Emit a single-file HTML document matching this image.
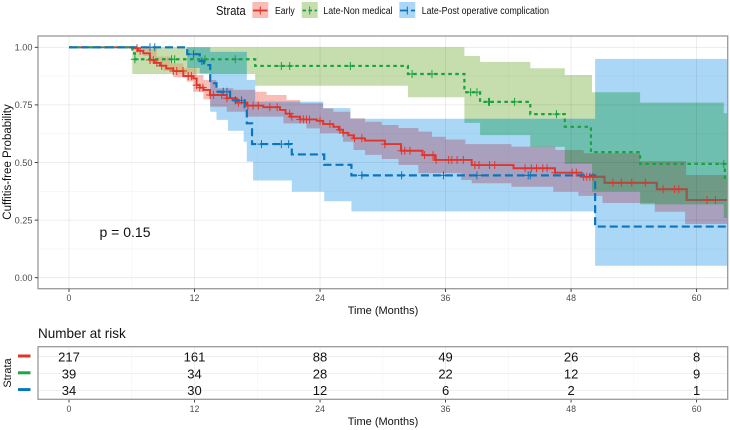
<!DOCTYPE html>
<html>
<head>
<meta charset="utf-8">
<style>
html,body{margin:0;padding:0;background:#fff;}
svg{display:block;font-family:"Liberation Sans",sans-serif;}
</style>
</head>
<body>
<svg id="chart" xmlns="http://www.w3.org/2000/svg" width="730" height="430" viewBox="0 0 730 430">
<defs id="defs"><clipPath id="panel-clip"><rect x="38" y="36" width="689.7" height="252.7"/></clipPath></defs>
<rect width="730" height="430" fill="#fff"/>
<g id="ribbons" clip-path="url(#panel-clip)"></g>
<g id="grid"></g>
<g id="marks" clip-path="url(#panel-clip)"></g>
<rect x="38" y="36" width="689.7" height="252.7" fill="none" stroke="#999" stroke-width="1.3"/>
<g id="axes"></g>
<text x="383" y="314" font-size="11" text-anchor="middle" fill="#111">Time (Months)</text>
<text transform="translate(11,162) rotate(-90)" font-size="11.5" text-anchor="middle" fill="#111">Cuffitis-free Probability</text>
<text x="99.5" y="237" font-size="14" fill="#111">p = 0.15</text>

<g id="legend">
<text x="216" y="15" font-size="12.5" textLength="29.7" lengthAdjust="spacingAndGlyphs" fill="#111">Strata</text>
<rect x="252.3" y="2" width="16" height="16" fill="#F7BDB6"/>
<line x1="253" y1="10.5" x2="267.5" y2="10.5" stroke="#E0352B" stroke-width="1.8"/>
<line x1="260.3" y1="6.5" x2="260.3" y2="14.5" stroke="#E0352B" stroke-width="1"/>
<text x="275" y="14.2" font-size="9.8" textLength="19.7" lengthAdjust="spacingAndGlyphs" fill="#111">Early</text>
<rect x="301.7" y="2" width="16" height="16" fill="#C6DDAE"/>
<line x1="302.5" y1="10.5" x2="317" y2="10.5" stroke="#18A23C" stroke-width="1.8" stroke-dasharray="3.5 2.5"/>
<line x1="309.7" y1="6.5" x2="309.7" y2="14.5" stroke="#18A23C" stroke-width="1"/>
<text x="323.3" y="14.2" font-size="9.8" textLength="69.3" lengthAdjust="spacingAndGlyphs" fill="#111">Late-Non medical</text>
<rect x="399.3" y="2" width="16" height="16" fill="#A9D7F5"/>
<line x1="400" y1="10.5" x2="415" y2="10.5" stroke="#0A75BC" stroke-width="1.8" stroke-dasharray="8 3"/>
<line x1="407.3" y1="6.5" x2="407.3" y2="14.5" stroke="#0A75BC" stroke-width="1"/>
<text x="421.7" y="14.2" font-size="9.8" textLength="127.3" lengthAdjust="spacingAndGlyphs" fill="#111">Late-Post operative complication</text>
</g>

<text x="38" y="338" font-size="14" textLength="87.7" lengthAdjust="spacingAndGlyphs" fill="#111">Number at risk</text>
<g id="risk-grid"></g>
<rect x="38" y="346.7" width="689.7" height="52.6" fill="none" stroke="#999" stroke-width="1.3"/>
<g id="risk-body"></g>
<text transform="translate(11,373) rotate(-90)" font-size="11" text-anchor="middle" fill="#111">Strata</text>
<text x="383" y="425" font-size="11" text-anchor="middle" fill="#111">Time (Months)</text>
</svg>

<script>
var xTicks = [0, 12, 24, 36, 48, 60];
var xMinorTicks = [6, 18, 30, 42, 54];
var yTicks = [0, 0.25, 0.5, 0.75, 1];
var yMinorTicks = [0.125, 0.375, 0.625, 0.875];
var maxMonth = 62.96;

var redTimes = [0, 6.15, 6.6, 7.1, 7.74, 8.2, 8.7, 9.3, 9.97, 10.93, 11.88, 12.2, 12.5, 12.85, 13.48, 15.08, 16.03, 16.99, 18.58, 20.17, 20.7, 21.13, 22.08, 23.68, 24.3, 25.27, 25.8, 26.2, 26.7, 27.2, 28.3, 30.2, 31.74, 33.8, 34.99, 38.5, 42.5, 46.46, 49, 51.2, 56.2, 59.05];
var redSurv = [1, 0.996, 0.985, 0.974, 0.945, 0.932, 0.92, 0.908, 0.897, 0.875, 0.865, 0.836, 0.825, 0.815, 0.793, 0.779, 0.76, 0.747, 0.74, 0.728, 0.712, 0.699, 0.687, 0.681, 0.667, 0.655, 0.642, 0.629, 0.618, 0.605, 0.595, 0.58, 0.551, 0.532, 0.511, 0.489, 0.475, 0.456, 0.438, 0.412, 0.384, 0.337];
var redUpperTimes = [0, 7.4, 8.4, 9.66, 10.93, 12.2, 12.85, 14.1, 15.7, 17.8, 18.9, 20.8, 22.1, 24.3, 25.27, 26.9, 28.3, 29.9, 31.5, 33.4, 34.7, 36, 37.9, 42.3, 46.5, 49.2, 54.6, 59];
var redUpper = [1, 0.995, 0.96, 0.93, 0.909, 0.88, 0.858, 0.822, 0.815, 0.807, 0.793, 0.771, 0.757, 0.735, 0.72, 0.692, 0.677, 0.663, 0.65, 0.634, 0.612, 0.6, 0.58, 0.569, 0.554, 0.54, 0.506, 0.446];
var redLowerTimes = [0, 6.15, 7.1, 7.74, 9, 9.97, 11.25, 11.88, 12.85, 13.48, 15.08, 16.99, 20.5, 22.7, 24, 26.2, 27.2, 28.3, 29.9, 31.5, 33.4, 37.5, 38.5, 42.3, 46.3, 48.7, 51, 56, 58.9];
var redLower = [1, 0.996, 0.962, 0.931, 0.898, 0.87, 0.851, 0.807, 0.774, 0.742, 0.72, 0.699, 0.67, 0.648, 0.627, 0.59, 0.554, 0.533, 0.515, 0.489, 0.454, 0.424, 0.41, 0.395, 0.373, 0.355, 0.324, 0.286, 0.233];
var redCensor = [6.5, 6.8, 7.74, 8.06, 8.4, 8.86, 9.97, 10.3, 10.9, 11.4, 11.7, 12.2, 12.5, 12.8, 13.5, 13.8, 14.6, 15.1, 16.2, 17.1, 17.6, 18.1, 19.2, 19.9, 21.1, 21.3, 22.1, 22.4, 22.7, 23, 24, 24.95, 25.9, 26.2, 27.3, 28, 30.2, 31.8, 32.1, 32.6, 34, 34.8, 35.1, 36.3, 36.6, 37.1, 37.7, 38.8, 39.2, 40.2, 40.7, 43.6, 44.2, 44.7, 45.3, 45.7, 46.5, 48.1, 48.5, 49.2, 49.5, 49.8, 50.1, 52, 52.8, 53.8, 55.1, 56.8, 57.9, 58.3, 61, 61.8];

var greenTimes = [0, 6.05, 6.3, 17.8, 32.4, 37.8, 39.3, 44.1, 47.4, 49.9, 54.6, 62.7];
var greenSurv = [1, 0.974, 0.948, 0.919, 0.884, 0.805, 0.763, 0.71, 0.655, 0.545, 0.494, 0.433];
var greenUpperTimes = [0, 37.8, 39.3, 44.1, 47.4, 50, 54.6, 62.6];
var greenUpper = [1, 0.962, 0.937, 0.909, 0.88, 0.805, 0.76, 0.714];
var greenLowerTimes = [0, 6.05, 17.8, 32.4, 37.8, 39.3, 44.1, 47.4, 50, 54.6, 62.6];
var greenLower = [1, 0.884, 0.833, 0.783, 0.672, 0.619, 0.568, 0.494, 0.373, 0.318, 0.259];
var greenCensor = [6.3, 9.8, 10.1, 13, 15.9, 20.3, 21.1, 26.9, 32.8, 34.7, 38.4, 39, 40.1, 40.2, 42.6, 46.6, 62.6];

var blueTimes = [0, 11.3, 12.5, 12.9, 13.5, 14.1, 15.4, 16.8, 17, 17.5, 21.3, 24.4, 27, 50.3];
var blueSurv = [1, 0.97, 0.94, 0.923, 0.844, 0.807, 0.77, 0.74, 0.67, 0.58, 0.535, 0.49, 0.444, 0.222];
var blueUpperTimes = [0, 13.5, 17, 17.8, 24.3, 26.9, 50.3];
var blueUpper = [1, 0.98, 0.858, 0.764, 0.736, 0.69, 0.95];
var blueLowerTimes = [0, 11.3, 12.5, 13.5, 14.1, 15.2, 16.7, 17, 17.6, 21.3, 24.4, 27, 50.3];
var blueLower = [1, 0.91, 0.887, 0.72, 0.685, 0.638, 0.59, 0.504, 0.422, 0.373, 0.332, 0.288, 0.052];
var blueCensor = [7.74, 8.2, 11.9, 12.7, 14.75, 15.1, 15.9, 16.5, 18.4, 20.3, 21, 28, 31.8, 35.8, 39, 43.9, 44.1];

var riskEarly = [217, 161, 88, 49, 26, 8];
var riskNonMedical = [39, 34, 28, 22, 12, 9];
var riskPostOperative = [34, 30, 12, 6, 2, 1];

var RED = '#E0352B', GREEN = '#18A23C', BLUE = '#0A75BC', MUTED_RED = '#8E5B4F';
var NS = 'http://www.w3.org/2000/svg';

function xScale(m) { return 69 + 10.46 * m; }
function yScale(s) { return 277.7 - 230.4 * s; }
function riskRow(i) { return 356.7 + 16.8 * i; }

function make(tag, parent, attrs) {
  var node = document.createElementNS(NS, tag);
  for (var k in attrs) node.setAttribute(k, attrs[k]);
  parent.appendChild(node);
  return node;
}

function stepPoints(times, vals) {
  var pts = [];
  for (var i = 0; i < times.length; i++) {
    if (i > 0) pts.push([times[i], vals[i - 1]]);
    pts.push([times[i], vals[i]]);
  }
  pts.push([maxMonth, vals[vals.length - 1]]);
  return pts;
}

function pointsToString(pts) {
  return pts.map(function (p) { return xScale(p[0]).toFixed(2) + ',' + yScale(p[1]).toFixed(2); }).join(' ');
}

function stepAt(times, vals, t) {
  var v = vals[0];
  for (var i = 0; i < times.length; i++) { if (times[i] <= t) v = vals[i]; }
  return v;
}

var defs = document.getElementById('defs');
var ribbons = document.getElementById('ribbons');
var grid = document.getElementById('grid');
var riskGrid = document.getElementById('risk-grid');
var axes = document.getElementById('axes');
var riskBody = document.getElementById('risk-body');
var marks = document.getElementById('marks');

xMinorTicks.forEach(function (m) {
  var l = make('line', grid, { x1: xScale(m), x2: xScale(m), y1: 36, y2: 288.7, stroke: '#000', 'stroke-opacity': 0.045, 'stroke-width': 0.6 });
  
  
  var r = make('line', riskGrid, { x1: xScale(m), x2: xScale(m), y1: 346.7, y2: 399.3, stroke: '#F3F3F3', 'stroke-width': 0.6 });
  
  
});
yMinorTicks.forEach(function (v) {
  var l = make('line', grid, { x1: 38, x2: 727.7, y1: yScale(v), y2: yScale(v), stroke: '#000', 'stroke-opacity': 0.045, 'stroke-width': 0.6 });
  
  
});
xTicks.forEach(function (m) {
  var x = xScale(m);
  var l = make('line', grid, { x1: x, x2: x, y1: 36, y2: 288.7, stroke: '#000', 'stroke-opacity': 0.09, 'stroke-width': 0.8 });
  
  
  var r = make('line', riskGrid, { x1: x, x2: x, y1: 346.7, y2: 399.3, stroke: '#EBEBEB', 'stroke-width': 0.8 });
  
  
  var t = make('line', axes, { x1: x, x2: x, y1: 288.7, y2: 292, stroke: '#333', 'stroke-width': 0.9 });
  
  
  var lab = make('text', axes, { x: x, y: 301, 'font-size': 8.8, 'text-anchor': 'middle', fill: '#4D4D4D' });
  lab.textContent = String(m);
  
  
  var rt = make('line', axes, { x1: x, x2: x, y1: 399.3, y2: 402.5, stroke: '#333', 'stroke-width': 0.9 });
  
  
  var rlab = make('text', axes, { x: x, y: 412, 'font-size': 8.8, 'text-anchor': 'middle', fill: '#4D4D4D' });
  rlab.textContent = String(m);
  
  
});
yTicks.forEach(function (v) {
  var y = yScale(v);
  var l = make('line', grid, { x1: 38, x2: 727.7, y1: y, y2: y, stroke: '#000', 'stroke-opacity': 0.09, 'stroke-width': 0.8 });
  
  
  var t = make('line', axes, { x1: 34.7, x2: 38, y1: y, y2: y, stroke: '#333', 'stroke-width': 0.9 });
  
  
  var lab = make('text', axes, { x: 32.5, y: y + 3.3, 'font-size': 9.2, 'text-anchor': 'end', fill: '#4D4D4D' });
  lab.textContent = v.toFixed(2);
  
  
});

function ribbonString(upT, up, loT, lo) {
  return pointsToString(stepPoints(upT, up).concat(stepPoints(loT, lo).reverse()));
}
var redBand = ribbonString(redUpperTimes, redUpper, redLowerTimes, redLower);
var greenBand = ribbonString(greenUpperTimes, greenUpper, greenLowerTimes, greenLower);
var blueBand = ribbonString(blueUpperTimes, blueUpper, blueLowerTimes, blueLower);

function addClip(id, band) {
  var c = make('clipPath', defs, { id: id });
  make('polygon', c, { points: band });
}
addClip('clip-red', redBand);
addClip('clip-green', greenBand);
addClip('clip-blue', blueBand);

function drawRibbon(band, color, name, clips) {
  var parent = ribbons;
  clips.forEach(function (id) {
    parent = make('g', parent, { 'clip-path': 'url(#' + id + ')' });
  });
  var p = make('polygon', parent, { points: band, fill: color, stroke: 'none' });
  
  
}
function drawLine(pts, color, width, dash, name) {
  var attrs = { points: pointsToString(pts), fill: 'none', stroke: color, 'stroke-width': width };
  if (dash) attrs['stroke-dasharray'] = dash;
  var p = make('polyline', marks, attrs);
  
  
}
function drawCensor(censor, times, vals, color, name) {
  censor.forEach(function (t) {
    var x = xScale(t), y = yScale(stepAt(times, vals, t));
    var p = make('path', marks, { d: 'M' + (x - 4) + ' ' + y + 'H' + (x + 4) + 'M' + x + ' ' + (y - 4) + 'V' + (y + 4), stroke: color, 'stroke-width': 1, fill: 'none' });
    
    
  });
}

drawRibbon(redBand, '#F7BDB6', 'ci-band-early', []);
drawRibbon(greenBand, '#C6DDAE', 'ci-band-late-non-medical', []);
drawRibbon(blueBand, '#A9D7F5', 'ci-band-late-post-operative', []);
drawRibbon(greenBand, '#CDBE8E', 'ci-overlap-early-non-medical', ['clip-red']);
drawRibbon(blueBand, '#6FBFB0', 'ci-overlap-non-medical-post-operative', ['clip-green']);
drawRibbon(blueBand, '#A9A0BE', 'ci-overlap-early-post-operative', ['clip-red']);
drawRibbon(blueBand, '#6F9A85', 'ci-overlap-all-strata', ['clip-red', 'clip-green']);

var redPts = stepPoints(redTimes, redSurv);
drawLine(redPts, RED, 1.9, '', 'survival-line-early');
var mutedStart = blueTimes[blueTimes.length - 1];
var mutedPts = [[mutedStart, stepAt(redTimes, redSurv, mutedStart)]].concat(redPts.filter(function (p) { return p[0] > mutedStart; }));
drawLine(mutedPts, MUTED_RED, 2, '', 'survival-line-early-under-bands');
drawLine(stepPoints(greenTimes, greenSurv), GREEN, 2.2, '3.5 3.5', 'survival-line-late-non-medical');
drawLine(stepPoints(blueTimes, blueSurv), BLUE, 2.2, '8 4', 'survival-line-late-post-operative');
drawCensor(redCensor, redTimes, redSurv, RED, 'censor-mark-early');
drawCensor(greenCensor, greenTimes, greenSurv, GREEN, 'censor-mark-late-non-medical');
drawCensor(blueCensor, blueTimes, blueSurv, BLUE, 'censor-mark-late-post-operative');

function drawRiskRow(values, rowIndex, color, name) {
  var y = riskRow(rowIndex);
  var g = make('line', riskGrid, { x1: 38, x2: 727.7, y1: y, y2: y, stroke: '#EBEBEB', 'stroke-width': 0.8 });
  
  
  var k = make('line', riskBody, { x1: 18, x2: 30.5, y1: y - 0.7, y2: y - 0.7, stroke: color, 'stroke-width': 3 });
  
  
  values.forEach(function (v, i) {
    var t = make('text', riskBody, { x: xScale(xTicks[i]), y: y + 4.8, 'font-size': 13, 'text-anchor': 'middle', fill: '#111' });
    t.textContent = String(v);
    
    
  });
}
drawRiskRow(riskEarly, 0, RED, 'early');
drawRiskRow(riskNonMedical, 1, '#1FA53F', 'late-non-medical');
drawRiskRow(riskPostOperative, 2, BLUE, 'late-post-operative');
</script>
</body>
</html>
